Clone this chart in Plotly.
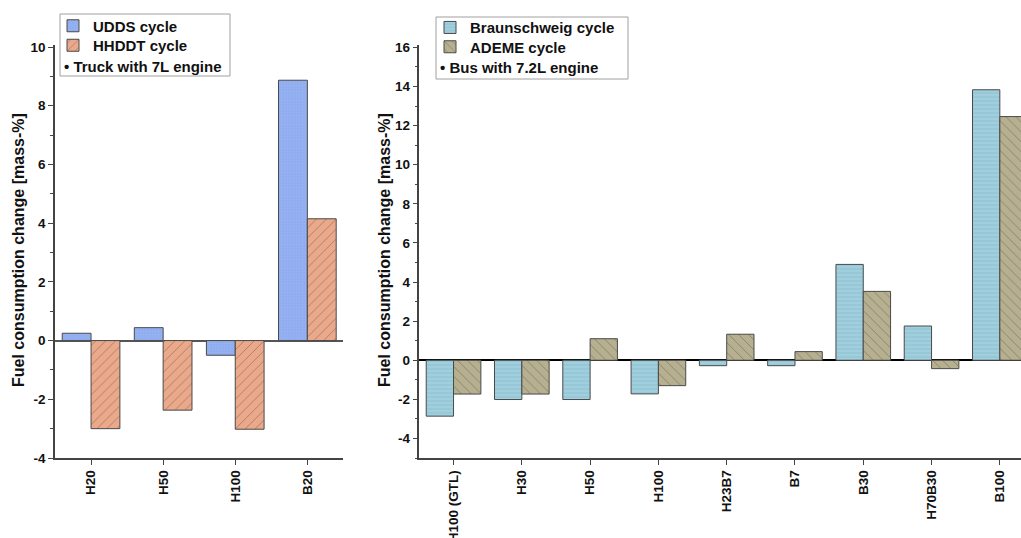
import plotly.graph_objects as go

# ---------------- data ----------------
truck_fuels = ["H20", "H50", "H100", "B20"]
udds = [0.25, 0.44, -0.50, 8.87]
hhddt = [-3.00, -2.37, -3.02, 4.15]

bus_fuels = ["H100 (GTL)", "H30", "H50", "H100", "H23B7", "B7", "B30", "H70B30", "B100"]
braunschweig = [-2.86, -2.01, -2.01, -1.72, -0.28, -0.28, 4.90, 1.75, 13.83]
ademe = [-1.73, -1.73, 1.10, -1.30, 1.33, 0.44, 3.52, -0.43, 12.46]

y_title = "Fuel consumption change [mass-%]"

W, H = 1021, 538
FONT = "Liberation Sans"

def px(x):
    return x / W

def py(y):
    return 1 - y / H

fig = go.Figure()

outline = dict(color="#4a4a4a", width=1)

fig.add_trace(go.Bar(
    x=truck_fuels, y=udds, name="UDDS cycle", xaxis="x", yaxis="y", legend="legend",
    marker=dict(color="#8fadef", line=outline,
                pattern=dict(shape="+", fgcolor="#a9c0f4", size=3, solidity=0.25)),
))
fig.add_trace(go.Bar(
    x=truck_fuels, y=hhddt, name="HHDDT cycle", xaxis="x", yaxis="y", legend="legend2",
    marker=dict(color="#eaa98a", line=outline,
                pattern=dict(shape="/", fgcolor="#4a3226", size=7, solidity=0.1)),
))
fig.add_trace(go.Bar(
    x=bus_fuels, y=braunschweig, name="Braunschweig cycle", xaxis="x2", yaxis="y2", legend="legend3",
    marker=dict(color="#96c8d8", line=outline,
                pattern=dict(shape="-", fgcolor="#badde8", size=4, solidity=0.3)),
))
fig.add_trace(go.Bar(
    x=bus_fuels, y=ademe, name="ADEME cycle", xaxis="x2", yaxis="y2", legend="legend4",
    marker=dict(color="#b7b090", line=outline,
                pattern=dict(shape="\\", fgcolor="#3a3a2e", size=7, solidity=0.1)),
))

dom_y = [py(458), py(45)]
tickfont = dict(family=FONT, size=13.5, color="#111", weight="bold")
titlefont = dict(family=FONT, size=16, color="#111", weight="bold")
legfont = dict(family=FONT, size=15, color="#111", weight="bold")
axis_common = dict(
    showline=True, linecolor="#444", linewidth=1.5, ticks="outside", ticklen=5,
    tickwidth=1.2, tickcolor="#444", showgrid=False, tickfont=tickfont,
    automargin=False,
)

def leg(x, center):
    return dict(x=px(x), y=py(center), xanchor="left", yanchor="middle",
                xref="container", yref="container",
                bgcolor="rgba(0,0,0,0)", borderwidth=0, font=legfont, tracegroupgap=0)

fig.update_layout(
    width=W, height=H, margin=dict(l=0, r=0, t=0, b=0, autoexpand=False),
    paper_bgcolor="white", plot_bgcolor="white",
    barmode="group", bargap=0.2, bargroupgap=0,
    font=dict(family=FONT, size=13, color="#111"),
    xaxis=dict(domain=[px(55), px(343.4)], range=[-0.5, 3.5], type="category",
               tickangle=-90, anchor="y", **axis_common),
    yaxis=dict(domain=dom_y, range=[-4, 10.07], tickvals=[-4, -2, 0, 2, 4, 6, 8, 10],
               ticktext=["-4", "-2", "0", "2", "4", "6", "8", "10"],
               minor=dict(ticks="outside", ticklen=3, tickcolor="#444", dtick=1, tick0=0),
               zeroline=True, zerolinecolor="#555", zerolinewidth=1.5,
               anchor="x", **axis_common),
    xaxis2=dict(domain=[px(419.4), 1.0], range=[-0.5, 8.31], type="category",
                tickangle=-90, anchor="y2", **axis_common),
    yaxis2=dict(domain=dom_y, range=[-5, 16.12], tickvals=list(range(-4, 17, 2)),
                ticktext=[str(v) for v in range(-4, 17, 2)],
                minor=dict(ticks="outside", ticklen=3, tickcolor="#444", dtick=1, tick0=0),
                zeroline=True, zerolinecolor="#000", zerolinewidth=1.5,
                anchor="x2", **axis_common),
    legend=leg(53, 26),
    legend2=leg(53, 45.5),
    legend3=leg(430, 27.7),
    legend4=leg(430, 47),
    showlegend=True,
)

# axis titles
for xt in (18, 384):
    fig.add_annotation(text=y_title, xref="paper", yref="paper",
                       x=px(xt), y=py(250), xanchor="center", yanchor="middle",
                       textangle=-90, showarrow=False, font=titlefont)

# legend frames
fig.add_shape(type="rect", xref="paper", yref="paper",
              x0=px(60), x1=px(230), y0=py(76), y1=py(14),
              line=dict(color="#a0a0a0", width=1), fillcolor="white", layer="above")
fig.add_shape(type="rect", xref="paper", yref="paper",
              x0=px(436), x1=px(628), y0=py(79), y1=py(17),
              line=dict(color="#a0a0a0", width=1), fillcolor="white", layer="above")

fig.add_annotation(text="• Truck with 7L engine", xref="paper", yref="paper",
                   x=px(62), y=py(66.5), xanchor="left", yanchor="middle", showarrow=False,
                   font=legfont)
fig.add_annotation(text="• Bus with 7.2L engine", xref="paper", yref="paper",
                   x=px(438), y=py(67.5), xanchor="left", yanchor="middle", showarrow=False,
                   font=legfont)

fig.write_html(
    "out.html",
    config={"displayModeBar": False},
    post_script="document.body.style.margin='0';document.body.style.overflow='hidden';",
)
